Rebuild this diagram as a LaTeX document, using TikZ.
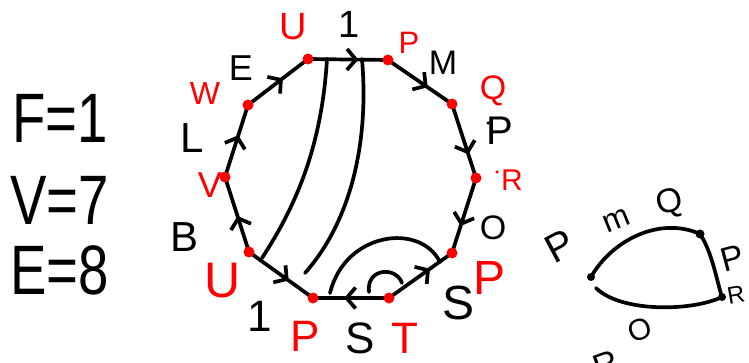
\documentclass[tikz,border=0pt]{standalone}
\usepackage{fontspec}
\setmainfont{Liberation Sans}
\usetikzlibrary{arrows.meta,decorations.markings}
\begin{document}
\begin{tikzpicture}[x=1pt,y=-1pt,
  stroke/.style={line width=3.7pt,line cap=round,line join=round},
  arr/.style={postaction={decorate},decoration={markings,mark=at position #1 with {\arrow{Straight Barb[length=9pt,width=21pt]}}}},
  vdot/.style={circle,fill=red,inner sep=0pt,minimum size=11pt},
  bdot/.style={circle,fill=black,inner sep=0pt,minimum size=#1},
  speck/.style={circle,fill=#1,inner sep=0pt,minimum size=3.5pt},
  lab/.style={inner sep=0pt,font=\fontsize{#1}{#1}\selectfont},
  rlab/.style={lab=#1,text=red},
  big/.style={inner sep=0pt,anchor=west,font=\fontsize{70}{70}\selectfont}]
\useasboundingbox (0,0) rectangle (749,363);

% polygon vertices
\coordinate (Ut) at (308,59);
\coordinate (Pt) at (388,60);
\coordinate (Q)  at (452,104);
\coordinate (R)  at (476,178);
\coordinate (Pr) at (452,253);
\coordinate (T)  at (389,298);
\coordinate (Pb) at (313,298);
\coordinate (Ul) at (249,252);
\coordinate (V)  at (225,177);
\coordinate (W)  at (248,105);

% edges
\draw[stroke,arr=0.63] (Ut) -- (Pt);
\draw[stroke,arr=0.62] (Pt) -- (Q);
\draw[stroke,arr=0.68] (Q) -- (R);
\draw[stroke,arr=0.64] (R) -- (Pr);
\draw[stroke,arr=0.65] (T) -- (Pr);
\draw[stroke,arr=0.59] (T) -- (Pb);
\draw[stroke,arr=0.62] (Ul) -- (Pb);
\draw[stroke,arr=0.48] (Ul) -- (V);
\draw[stroke,arr=0.58] (V) -- (W);
\draw[stroke,arr=0.58] (W) -- (Ut);

% chords
\coordinate (c1a) at (327,59);
\coordinate (c1b) at (262,258);
\coordinate (c2a) at (362,59);
\coordinate (c2b) at (305,273);
\coordinate (c3a) at (330,293);
\coordinate (c3b) at (440,262);
\coordinate (c4a) at (369,292);
\coordinate (c4b) at (402,283);
\draw[stroke] (c1a) .. controls (322,140) and (300,200) .. (c1b);
\draw[stroke] (c2a) .. controls (369,140) and (352,220) .. (c2b);
\draw[stroke] (c3a) .. controls (345,232) and (420,222) .. (c3b);
\draw[stroke] (c4a) .. controls (366,268) and (396,266) .. (c4b);

% vertex dots
\foreach \v in {Ut,Pt,Q,R,Pr,T,Pb,Ul,V,W} \node[vdot] (d\v) at (\v) {};

% red vertex labels
\node[rlab=38] (lUt) at (293,27) {U};
\node[rlab=31] (lPt) at (409,43) {P};
\node[rlab=34] (lQ)  at (493,91) {Q};
\node[rlab=30] (lR)  at (512,180) {R};
\node[rlab=48] (lPr) at (490,278) {P};
\node[rlab=44] (lT)  at (405,338) {T};
\node[rlab=44] (lPb) at (305,336) {P};
\node[rlab=50] (lUl) at (223,281) {U};
\node[rlab=36] (lV)  at (210,185) {V};
\node[rlab=32] (lW)  at (205,93) {W};
\node[speck=red] (sR) at (497,172) {};

% black edge labels
\node[lab=38] (e1t) at (349,24) {1};
\node[lab=34] (eM)  at (443,63) {M};
\node[lab=40] (eP)  at (500,131) {P};
\node[speck=black] (sP) at (488,123) {};
\node[lab=34] (eO)  at (493,228) {O};
\node[lab=48] (eS1) at (459,303) {S};
\node[lab=44] (eS2) at (360,338) {S};
\node[lab=44] (e1b) at (260,316) {1};
\node[lab=42] (eB)  at (185,237) {B};
\node[lab=42] (eL)  at (192,138) {L};
\node[lab=36] (eE)  at (241,68) {E};

% counts
\node[big] (nF) at (12,118) {\scalebox{0.78}[1]{F=1}};
\node[big] (nV) at (10,200) {\scalebox{0.78}[1]{V=7}};
\node[big] (nE) at (10,270) {\scalebox{0.78}[1]{E=8}};

% small figure
\coordinate (A) at (591,277);
\coordinate (B) at (700,234);
\coordinate (C) at (722,297);
\draw[stroke] (A) .. controls (612,240) and (660,216) .. (B);
\draw[stroke] (B) .. controls (712,252) and (716,278) .. (C);
\draw[stroke] (C) .. controls (690,312) and (620,312) .. (596,288);
\node[bdot=8pt] (dA) at (A) {};
\node[bdot=9pt] (dB) at (B) {};
\node[bdot=8pt] (dC) at (C) {};
\node[lab=40,rotate=28] (fP1) at (560,246) {P};
\node[lab=32,rotate=22] (fm) at (617,221) {m};
\node[lab=34,rotate=15] (fQ) at (670,204) {Q};
\node[lab=34,rotate=15] (fP2) at (732,258) {P};
\node[lab=24,rotate=10] (fR1) at (736,295) {R};
\node[lab=30,rotate=20] (fO) at (640,330) {O};
\node[lab=34,rotate=20] (fR2) at (606,364) {R};
\end{tikzpicture}
\end{document}
